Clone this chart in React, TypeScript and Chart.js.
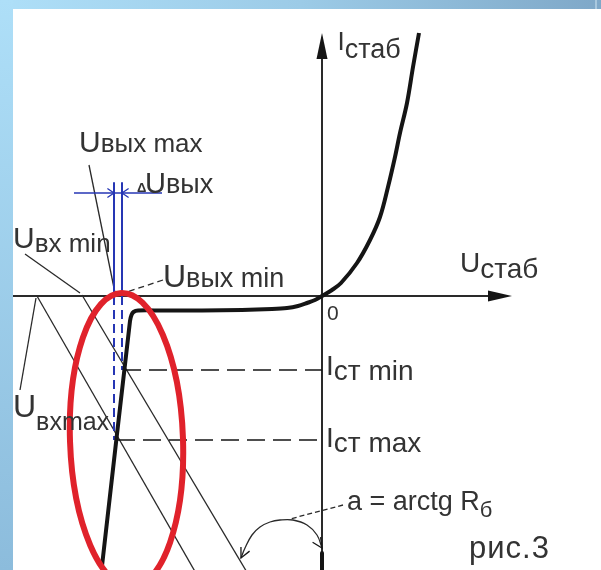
import React, { useEffect, useRef } from "react";
import { Chart, registerables } from "chart.js";

Chart.register(...registerables);

// ---- data (U along x, I along y; origin at 0,0) ----
const forwardBranch = [[0, 0], [1.0, 0.6], [1.9, 1.3], [3.5, 3.3], [4.8, 5.6], [5.8, 7.9], [6.6, 10.9], [7.3, 13.9], [7.8, 16.3], [8.5, 19.3], [9.1, 22.9], [9.7, 26.3]];
const reverseBranch = [[0, 0], [-0.7, -0.4], [-1.5, -0.7], [-2.4, -1.0], [-3.5, -1.2], [-5, -1.3], [-8, -1.4], [-12, -1.45], [-16, -1.45], [-18.4, -1.45], [-18.85, -1.6], [-19.05, -1.9], [-19.2, -2.5], [-22, -27]];
const uAxis = [[-30.9, 0], [17.0, 0]];
const iAxis = [[0, -27.4], [0, 24.2]];
const iAxisFoot = [[0, -25.7], [0, -27.4]];
const uAxisTip = 19.0;
const iAxisTip = 26.3;
const loadLineMax = [[-28.5, 0], [-12.5, -27.9]];
const loadLineMin = [[-24.0, 0.1], [-7.4, -27.8]];
const iStMin = [[-19.9, -7.4], [0, -7.4]];
const iStMax = [[-20.5, -14.4], [0, -14.4]];
const uOutMaxSolid = [[-20.8, 11.3], [-20.8, 0]];
const uOutMaxDash = [[-20.8, 0], [-20.8, -14.4]];
const uOutMinSolid = [[-20.0, 11.3], [-20.0, 0]];
const uOutMinDash = [[-20.0, 0], [-20.0, -7.4]];
const deltaLine = [[-24.8, 10.3], [-16.0, 10.3]];
const leaderOutMax = [[-23.3, 13.1], [-20.7, 0.3]];
const leaderInMin = [[-29.7, 4.2], [-24.2, 0.3]];
const leaderInMax = [[-30.2, -9.4], [-28.6, -0.2]];
const leaderOutMin = [[-15.9, 1.6], [-19.5, 0.4]];
const leaderAngle = [[2.1, -20.9], [-3.2, -22.3]];
const angleArc = [[-8.1, -26.2], [-7.7, -25.2], [-7.0, -23.9], [-6.2, -23.1], [-5.2, -22.6], [-4.2, -22.4], [-2.9, -22.4], [-1.5, -22.9], [-0.5, -23.9], [0, -25.2]];
const workEllipse = { cx: -19.55, cy: -14.4, rx: 5.65, ry: 14.7 };

type Part = { t: string; s: number; d?: number; w?: string; ls?: number };
const labelTexts: { x: number; y: number; parts: Part[] }[] = [
  { x: 1.55, y: 24.6, parts: [{ t: "I", s: 26 }, { t: "стаб", s: 27, d: 8 }] },
  { x: 13.8, y: 2.4, parts: [{ t: "U", s: 28 }, { t: "стаб", s: 28, d: 6 }] },
  { x: 0.5, y: -2.4, parts: [{ t: "0", s: 21 }] },
  { x: 0.4, y: -7.9, parts: [{ t: "I", s: 28 }, { t: "ст min", s: 28, d: 5 }] },
  { x: 0.4, y: -15.1, parts: [{ t: "I", s: 28 }, { t: "ст max", s: 28, d: 5 }] },
  { x: 2.5, y: -21.4, parts: [{ t: "a = arctg R", s: 27 }, { t: "б", s: 22, d: 7 }] },
  { x: 14.7, y: -26.2, parts: [{ t: "рис.3", s: 31, ls: 1 }] },
  { x: -24.3, y: 14.4, parts: [{ t: "U", s: 30 }, { t: "вых max", s: 26 }] },
  { x: -18.5, y: 10.4, parts: [{ t: "Δ", s: 13, w: "bold" }] },
  { x: -17.7, y: 10.3, parts: [{ t: "U", s: 29 }, { t: "вых", s: 27 }] },
  { x: -30.9, y: 4.8, parts: [{ t: "U", s: 30 }, { t: "вх min", s: 26, d: 4 }] },
  { x: -15.9, y: 0.9, parts: [{ t: "U", s: 32 }, { t: "вых min", s: 27 }] },
  { x: -30.9, y: -12.1, parts: [{ t: "U", s: 32 }, { t: "вхmax", s: 25, d: 13 }] },
];

const toPts = (a: number[][]) => a.map(([x, y]) => ({ x, y }));

const BLACK = "#151515";
const GREY = "#2a2a2a";
const BLUE = "#2636b4";
const RED = "#e0222b";
const TEXT = "#333333";
const FONT = '"Liberation Sans", Arial, sans-serif';

function ds(data: number[][], color: string, width: number, dash: number[] = [], tension = 0) {
  return {
    data: toPts(data),
    showLine: true,
    borderColor: color,
    backgroundColor: color,
    borderWidth: width,
    borderDash: dash,
    tension,
    pointRadius: 0,
    fill: false,
    borderCapStyle: "butt" as const,
    borderJoinStyle: "round" as const,
  };
}

const decorPlugin = {
  id: "decor",
  beforeDraw(chart: any) {
    const { ctx, width, height } = chart;
    ctx.save();
    ctx.fillStyle = "#ffffff";
    ctx.fillRect(0, 0, width, height);
    const gTop = ctx.createLinearGradient(0, 0, width, 0);
    gTop.addColorStop(0, "#aedff8");
    gTop.addColorStop(0.5, "#9ccbe7");
    gTop.addColorStop(1, "#7fa8c8");
    ctx.fillStyle = gTop;
    ctx.fillRect(0, 0, width, 9);
    const gLeft = ctx.createLinearGradient(0, 0, 0, height);
    gLeft.addColorStop(0, "#aedff8");
    gLeft.addColorStop(1, "#8cbcdc");
    ctx.fillStyle = gLeft;
    ctx.fillRect(0, 0, 13, height);
    ctx.fillStyle = "#a9c8de";
    ctx.fillRect(595, 0, 2, 9);
    ctx.restore();
  },
  afterDatasetsDraw(chart: any) {
    const { ctx } = chart;
    const xs = chart.scales.x;
    const ys = chart.scales.y;
    const X = (v: number) => xs.getPixelForValue(v);
    const Y = (v: number) => ys.getPixelForValue(v);
    ctx.save();

    // axis arrowheads
    ctx.fillStyle = BLACK;
    const hx = X(uAxisTip), hy = Y(0);
    ctx.beginPath();
    ctx.moveTo(hx, hy);
    ctx.lineTo(hx - 24, hy - 5.5);
    ctx.lineTo(hx - 24, hy + 5.5);
    ctx.closePath();
    ctx.fill();
    const vx = X(0), vy = Y(iAxisTip);
    ctx.beginPath();
    ctx.moveTo(vx, vy);
    ctx.lineTo(vx - 5.5, vy + 26);
    ctx.lineTo(vx + 5.5, vy + 26);
    ctx.closePath();
    ctx.fill();

    const barb = (tx: number, ty: number, fx: number, fy: number, len: number, ang: number, color: string, lw: number) => {
      const a = Math.atan2(ty - fy, tx - fx);
      ctx.strokeStyle = color;
      ctx.lineWidth = lw;
      ctx.setLineDash([]);
      ctx.beginPath();
      ctx.moveTo(tx - len * Math.cos(a - ang), ty - len * Math.sin(a - ang));
      ctx.lineTo(tx, ty);
      ctx.lineTo(tx - len * Math.cos(a + ang), ty - len * Math.sin(a + ang));
      ctx.stroke();
    };
    const a0 = angleArc[0], a1 = angleArc[2];
    barb(X(a0[0]), Y(a0[1]), X(a1[0]), Y(a1[1]), 11, 0.45, BLACK, 1.3);
    const b0 = angleArc[angleArc.length - 1], b1 = angleArc[angleArc.length - 3];
    barb(X(b0[0]), Y(b0[1]), X(b1[0]), Y(b1[1]), 11, 0.45, BLACK, 1.3);
    const dy = Y(deltaLine[0][1]);
    barb(X(uOutMaxSolid[0][0]), dy, X(uOutMaxSolid[0][0]) - 10, dy, 8, 0.6, BLUE, 1.3);
    barb(X(uOutMinSolid[0][0]), dy, X(uOutMinSolid[0][0]) + 10, dy, 8, 0.6, BLUE, 1.3);

    // red ellipse
    ctx.strokeStyle = RED;
    ctx.lineWidth = 6;
    ctx.beginPath();
    const ecx = X(workEllipse.cx), ecy = Y(workEllipse.cy);
    const erx = Math.abs(X(workEllipse.cx + workEllipse.rx) - ecx);
    const ery = Math.abs(Y(workEllipse.cy + workEllipse.ry) - ecy);
    ctx.ellipse(ecx, ecy, erx, ery, -0.035, 0, Math.PI * 2);
    ctx.stroke();

    // labels
    ctx.fillStyle = TEXT;
    ctx.textBaseline = "alphabetic";
    ctx.textAlign = "left";
    for (const l of labelTexts) {
      let cx = X(l.x);
      const by = Y(l.y);
      for (const p of l.parts) {
        ctx.font = `${p.w || "normal"} ${p.s}px ${FONT}`;
        if (p.ls) {
          for (const ch of p.t) {
            ctx.fillText(ch, cx, by + (p.d || 0));
            cx += ctx.measureText(ch).width + p.ls;
          }
        } else {
          ctx.fillText(p.t, cx, by + (p.d || 0));
          cx += ctx.measureText(p.t).width;
        }
      }
    }
    ctx.restore();
  },
};

export default function App() {
  const ref = useRef<HTMLCanvasElement>(null);
  useEffect(() => {
    document.body.style.margin = "0";
    const canvas = ref.current!;
    const chart = new Chart(canvas, {
      type: "scatter",
      data: {
        datasets: [
          ds(forwardBranch, BLACK, 4, [], 0.35),
          ds(reverseBranch, BLACK, 4, [], 0.3),
          ds(uOutMaxSolid, BLUE, 2),
          ds(uOutMinSolid, BLUE, 2),
          ds(uOutMaxDash, BLUE, 2, [9, 5]),
          ds(uOutMinDash, BLUE, 2, [9, 5]),
          ds(deltaLine, BLUE, 1.6),
          ds(iStMin, BLACK, 1.6, [18, 8]),
          ds(iStMax, BLACK, 1.6, [18, 8]),
          ds(loadLineMax, GREY, 1.3),
          ds(loadLineMin, GREY, 1.3),
          ds(leaderOutMax, GREY, 1.3),
          ds(leaderInMin, GREY, 1.3),
          ds(leaderInMax, GREY, 1.3),
          ds(leaderOutMin, GREY, 1.3, [6, 4]),
          ds(leaderAngle, GREY, 1.3, [5, 3]),
          ds(angleArc, GREY, 1.3, [], 0.4),
          ds(iAxisFoot, BLACK, 4),
          ds(uAxis, GREY, 2),
          ds(iAxis, GREY, 2),
        ] as any,
      },
      options: {
        animation: false,
        responsive: false,
        devicePixelRatio: 1,
        events: [],
        layout: { padding: 0 },
        plugins: { legend: { display: false }, tooltip: { enabled: false } },
        scales: {
          x: { type: "linear", min: -32.2, max: 27.9, display: false },
          y: { type: "linear", min: -27.4, max: 29.6, display: false },
        },
      },
      plugins: [decorPlugin],
    });
    return () => chart.destroy();
  }, []);
  return (
    <div style={{ position: "absolute", left: 0, top: 0, width: 601, height: 570 }}>
      <canvas ref={ref} width={601} height={570} style={{ display: "block", width: 601, height: 570 }} />
    </div>
  );
}
